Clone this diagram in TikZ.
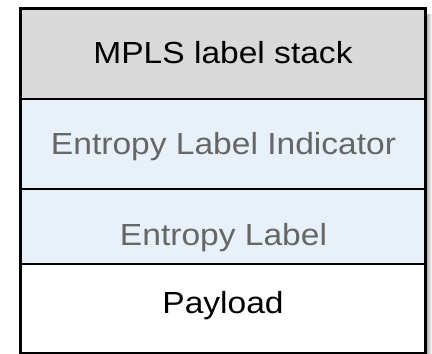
\documentclass[tikz,border=0pt]{standalone}
\usepackage{fontspec}
\setmainfont{Liberation Sans}[FakeStretch=1.1]
\definecolor{stackgray}{HTML}{D9D9D9}
\definecolor{elblue}{HTML}{E8F0F9}
\definecolor{eltext}{HTML}{666666}
\tikzset{
  row/.style={line width=2.5bp, draw=black},
  rowtext/.style={anchor=base, inner sep=0pt, font=\fontsize{30.5bp}{34bp}\selectfont}
}

\begin{document}
\begin{tikzpicture}[x=1bp, y=-1bp]
\useasboundingbox (0,0) rectangle (432,354);
%shadow
\shade[left color=black!30, right color=white] (427,14) rectangle (432,354);

%rows
\fill[stackgray] (20.5,8.5) rectangle (425.5,99);
\fill[elblue] (20.5,99) rectangle (425.5,264);
\fill[white] (20.5,264) rectangle (425.5,353);
\draw[row] (20.5,8.5) rectangle (425.5,353);
\draw[row] (20.5,99)--(425.5,99);
\draw[row] (20.5,189)--(425.5,189);
\draw[row] (20.5,264)--(425.5,264);

%labels
\node[rowtext] (mpls) at (223,63.5) {MPLS label stack};
\node[rowtext, text=eltext] (eli) at (223.5,154.5) {Entropy Label Indicator};
\node[rowtext, text=eltext] (el) at (223.5,245) {Entropy Label};
\node[rowtext] (payload) at (223,313) {Payload};

\end{tikzpicture}
\end{document}
